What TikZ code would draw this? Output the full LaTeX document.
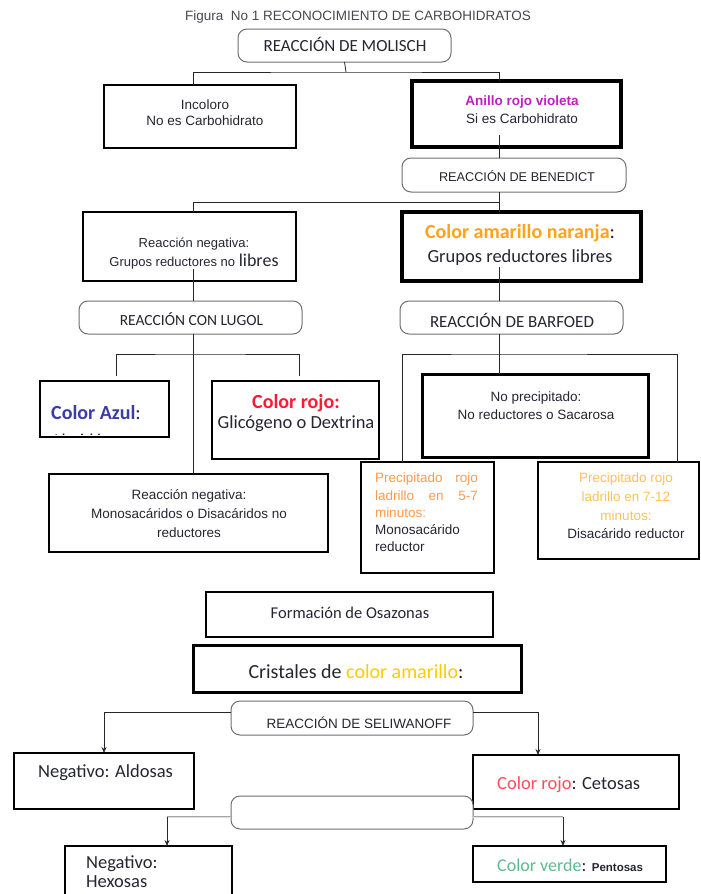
\documentclass[tikz,border=0pt]{standalone}
\usepackage{fontspec}
\setmainfont{Carlito}
\newfontfamily\ari{Liberation Sans}
\usetikzlibrary{arrows.meta}
\definecolor{ink}{HTML}{262633}
\definecolor{mag}{HTML}{C21DC2}
\definecolor{orng}{HTML}{FFA31A}
\definecolor{azul}{HTML}{3B3BAA}
\definecolor{rojo}{HTML}{FF1A33}
\definecolor{prcA}{HTML}{FF9A4D}
\definecolor{prcB}{HTML}{FFC05A}
\definecolor{amar}{HTML}{FFCC00}
\definecolor{rojoB}{HTML}{FF4D5E}
\definecolor{verde}{HTML}{5DBB8C}
\definecolor{rline}{HTML}{707070}
\newcommand{\fs}[2]{\fontsize{#1}{#2}\selectfont}
\newcommand\bx[6]{\node[#1,minimum width={(#5)-(#3)},minimum height={(#6)-(#4)}] (#2) at ({((#3)+(#5))/2},{((#4)+(#6))/2}) {};}
\begin{document}
\begin{tikzpicture}[x=1pt,y=-1pt,
  box/.style={draw=black,fill=white,inner sep=0pt,outer sep=0pt},
  rnd/.style={draw=rline,fill=white,line width=1pt,rounded corners=9pt,inner sep=0pt,outer sep=0pt},
  conn/.style={draw=ink,line width=0.8pt},
  arr/.style={draw=ink,line width=0.8pt,-{Stealth[length=6pt,width=5pt]}},
  dbl/.style={draw=gray!70,double=gray!25,double distance=0.8pt,line width=0.7pt},
  txt/.style={inner sep=0pt,text=ink,align=center}]
\useasboundingbox (0,0) rectangle (701,894);
\clip (0,0) rectangle (701,894);
\fill[white] (0,0) rectangle (701,894);

% boxes
\bx{rnd}{molisch}{238}{29}{451}{62}
\bx{box,line width=2.5pt}{incol}{104}{85}{296}{148}
\bx{box,line width=3.5pt}{anillo}{412}{81}{621}{147}
\bx{rnd}{benedict}{402}{158}{626}{192}
\bx{box,line width=2.5pt}{neg1}{83}{212}{296}{281}
\bx{box,line width=3.5pt}{amar}{402}{212}{641}{281}
\bx{rnd}{lugol}{79}{301}{302}{334}
\bx{rnd}{barfoed}{400}{301}{623}{334}
\bx{box,line width=2.5pt}{azul}{40}{381}{169}{437}
\bx{box,line width=2.5pt}{rojo}{212}{381}{379}{459}
\bx{box,line width=3pt}{noprec}{422}{374}{648}{457}
\bx{box,line width=2pt}{neg2}{49}{474}{328}{552}
\bx{box,line width=2.2pt}{prec1}{361}{462}{494}{573}
\bx{box,line width=2.5pt}{prec2}{538}{462}{699}{559}
\bx{box,line width=2.5pt}{forma}{206}{592}{493}{637}
\bx{box,line width=3pt}{crist}{193}{645}{521}{692}
\bx{rnd}{seli}{231}{701}{473}{735}
\bx{box,line width=2.5pt}{aldo}{14}{753}{194}{809}
\bx{box,line width=2pt}{ceto}{473}{755}{679}{809}
\bx{rnd}{empty}{231}{796}{473}{829}
\bx{box,line width=2pt}{hexo}{65}{846}{232}{904}
\bx{box,line width=1.6pt}{pento}{473}{846}{666}{882}

% column coordinates
\coordinate (cL) at (193,0);
\coordinate (cR) at (499,0);
\coordinate (c402) at (402,0);
\coordinate (c677) at (677,0);
\coordinate (cA) at (104,0);
\coordinate (cC) at (538,0);
\coordinate (j1) at (346,72);
\coordinate (j2) at (499,202);
\coordinate (j3) at (193,354);
\coordinate (j4) at (499,354);
\coordinate (h1) at (167,817);
\coordinate (h2) at (563,817);

% connectors
\draw[conn] (molisch.south) -- (j1);
\draw[conn] (incol.north -| cL) |- (j1) -| (anillo.north -| cR);
\draw[conn] ([yshift=12pt]anillo.south -| cR) -- (benedict.north -| cR);
\draw[conn] (benedict.south -| cR) -- (amar.north -| cR);
\draw[conn] (neg1.north -| cL) |- (j2);
\draw[conn] ([yshift=12pt]neg1.south -| cL) -- (lugol.north -| cL);
\draw[conn] ([yshift=14pt]amar.south -| cR) -- (barfoed.north -| cR);
\draw[conn] (lugol.south -| cL) -- (neg2.north -| cL);
\draw[conn] ([xshift=11.5pt,yshift=5pt]azul.north) |- (j3) -| ([xshift=3.5pt,yshift=5pt]rojo.north);
\draw[conn] (barfoed.south -| cR) -- (noprec.north -| cR);
\draw[conn] (prec1.north -| c402) |- (j4) -| (prec2.north -| c677);
\draw[arr] ([yshift=6pt]seli.west) -| (aldo.north -| cA);
\draw[arr] ([yshift=6pt]seli.east) -| (ceto.north -| cC);
\draw[dbl] ([yshift=-4.5pt]empty.west) -- (h1);
\draw[dbl] ([yshift=-4.5pt]empty.east) -- (h2);
\draw[arr] (h1) -- (hexo.north -| h1);
\draw[arr] (h2) -- (pento.north -| h2);

% texts
\node[txt,font=\ari\fs{13.5}{16},text=ink!85] (t-title) at (358,17) {Figura\ \ No 1 RECONOCIMIENTO DE CARBOHIDRATOS};
\node[txt,font=\fs{17}{20}] (t-mol) at (345,44) {REACCIÓN DE MOLISCH};
\node[txt,font=\ari\fs{13.5}{16}] (t-inc) at (205,113) {Incoloro\\No es Carbohidrato};
\node[txt,font=\ari\fs{13.5}{18}] (t-ani) at (522,110) {\textcolor{mag}{\bfseries Anillo rojo violeta}\\Si es Carbohidrato};
\node[txt,font=\ari\fs{12.7}{15}] (t-ben) at (517,176) {REACCIÓN DE BENEDICT};
\node[txt,font=\ari\fs{13}{19}] (t-neg1) at (194,253.5) {Reacción negativa:\\Grupos reductores no {\rmfamily\fs{18}{19}libres}};
\node[txt,font=\fs{20}{24}] (t-amar) at (520,245) {\textcolor{orng}{\bfseries Color amarillo naranja}:\\{\fs{18.5}{24}Grupos reductores libres}};
\node[txt,font=\fs{15.5}{18}] (t-lug) at (191.5,319) {REACCIÓN CON LUGOL};
\node[txt,font=\fs{17}{20}] (t-bar) at (512,320) {REACCIÓN DE BARFOED};
\node[txt,font=\fs{20}{22},anchor=west] (t-azul) at (51,413) {\textcolor{azul}{\bfseries Color Azul}:};
\begin{scope}
\clip (41,382) rectangle (168,434.5);
\node[txt,font=\fs{18}{20},anchor=base west] (t-almid) at (51,446) {Almidón};
\end{scope}
\node[txt,font=\fs{20}{20}] (t-rojo) at (296,413) {\textcolor{rojo}{\bfseries Color rojo:}\\{\fs{18.5}{20}Glicógeno o Dextrina}};
\node[txt,font=\ari\fs{13.5}{18}] (t-noprec) at (536,406) {No precipitado:\\No reductores o Sacarosa};
\node[txt,font=\ari\fs{13.5}{19}] (t-neg2) at (189,514) {Reacción negativa:\\Monosacáridos o Disacáridos no\\reductores};
\node[txt,font=\ari\fs{13.5}{17.3},align=left,text width=103pt] (t-p1) at (426.5,512.5) {\textcolor{prcA}{\hbox to 103pt{Precipitado\hfill rojo}}\\\textcolor{prcA}{\hbox to 103pt{ladrillo\hfill en\hfill 5-7}}\\\textcolor{prcA}{minutos:}\\Monosacárido\\reductor};
\node[txt,font=\ari\fs{13.5}{18.7}] (t-p2) at (626,506) {\textcolor{prcB}{Precipitado rojo}\\\textcolor{prcB}{ladrillo en 7-12}\\\textcolor{prcB}{minutos:}\\Disacárido reductor};
\node[txt,font=\fs{16.5}{20}] (t-forma) at (350,613) {Formación de Osazonas};
\node[txt,font=\fs{20}{22}] (t-crist) at (356,672) {Cristales de \textcolor{amar}{color amarillo}:};
\node[txt,font=\ari\fs{13.5}{16}] (t-seli) at (359,723) {REACCIÓN DE SELIWANOFF};
\node[txt,font=\fs{18.5}{20},anchor=west] (t-aldo) at (38,773) {Negativo: Aldosas};
\node[txt,font=\fs{18.5}{20},anchor=west] (t-ceto) at (497,785) {\textcolor{rojoB}{Color rojo}: Cetosas};
\node[txt,font=\fs{18.5}{19},align=left,anchor=west] (t-hexo) at (86,872) {Negativo:\\Hexosas};
\node[txt,font=\fs{18}{20},anchor=west] (t-pento) at (497,865) {\textcolor{verde}{Color verde}: {\ari\bfseries\fs{11.5}{20}Pentosas}};
\end{tikzpicture}
\end{document}
